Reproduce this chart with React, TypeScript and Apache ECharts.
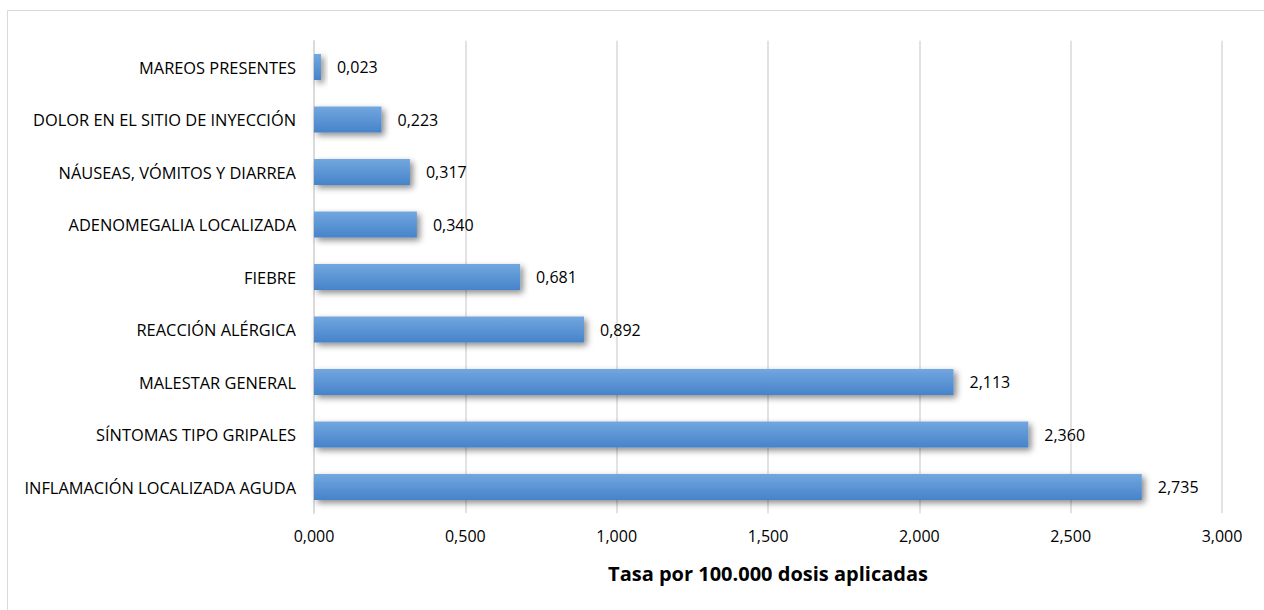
import React, { useEffect, useRef } from "react";
import * as echarts from "echarts";

const categories = [
  "INFLAMACIÓN LOCALIZADA AGUDA",
  "SÍNTOMAS TIPO GRIPALES",
  "MALESTAR GENERAL",
  "REACCIÓN ALÉRGICA",
  "FIEBRE",
  "ADENOMEGALIA LOCALIZADA",
  "NÁUSEAS, VÓMITOS Y DIARREA",
  "DOLOR EN EL SITIO DE INYECCIÓN",
  "MAREOS PRESENTES",
];
const values = [2.735, 2.36, 2.113, 0.892, 0.681, 0.34, 0.317, 0.223, 0.023];
const axisTitle = "Tasa por 100.000 dosis aplicadas";

const fmt = (v: number) => v.toFixed(3).replace(".", ",");
const FONT = "'Open Sans', 'Noto Sans', sans-serif";

export default function App() {
  const ref = useRef<HTMLDivElement>(null);
  useEffect(() => {
    const chart = echarts.init(ref.current!, undefined, { renderer: "svg" });
    chart.setOption({
      animation: false,
      backgroundColor: "#ffffff",
      graphic: [
        {
          type: "rect",
          shape: { x: 7.5, y: 10.5, width: 1270, height: 620 },
          style: { fill: "none", stroke: "#d9d9d9", lineWidth: 1 },
          silent: true,
        },
      ],
      grid: { left: 314, right: 42, top: 40.75, bottom: 96.75, containLabel: false },
      xAxis: {
        type: "value",
        min: 0,
        max: 3,
        interval: 0.5,
        axisLine: { show: false },
        axisTick: { show: false },
        splitLine: { show: true, lineStyle: { color: "#d9d9d9", width: 1.5 } },
        axisLabel: {
          formatter: (v: number) => fmt(v),
          color: "#000",
          fontSize: 16,
          fontFamily: FONT,
          margin: 15,
        },
        name: axisTitle,
        nameLocation: "middle",
        nameGap: 50,
        nameTextStyle: { fontSize: 20, fontWeight: "bold", color: "#000", fontFamily: FONT },
      },
      yAxis: {
        type: "category",
        data: categories,
        axisLine: { show: true, lineStyle: { color: "#d9d9d9", width: 1.5 } },
        axisTick: { show: false },
        axisLabel: { color: "#000", fontSize: 16.4, fontFamily: FONT, margin: 18 },
      },
      series: [
        {
          type: "bar",
          data: values,
          barWidth: 26,
          itemStyle: {
            color: new echarts.graphic.LinearGradient(0, 0, 0, 1, [
              { offset: 0, color: "#72a7e0" },
              { offset: 1, color: "#4683c9" },
            ]),
            shadowColor: "rgba(0,0,0,0.45)",
            shadowBlur: 6,
            shadowOffsetX: 3,
            shadowOffsetY: 3,
          },
          label: {
            show: true,
            position: "right",
            distance: 16,
            formatter: (p: any) => fmt(p.value),
            color: "#000",
            fontSize: 16,
            fontFamily: FONT,
          },
        },
      ],
    });
    return () => chart.dispose();
  }, []);
  return (
    <div
      ref={ref}
      style={{ position: "fixed", left: 0, top: 0, width: 1264, height: 610 }}
    />
  );
}
